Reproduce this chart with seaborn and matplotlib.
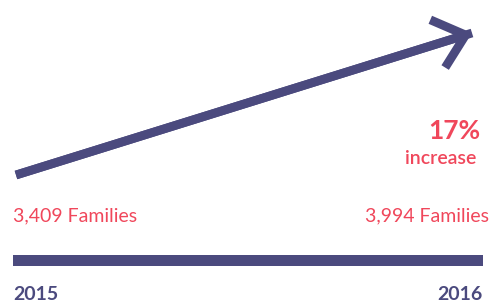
import numpy as np
import pandas as pd
import matplotlib
matplotlib.use("Agg")
import matplotlib.pyplot as plt
import seaborn as sns

# data
years = [2015, 2016]
families = [3409, 3994]
year_labels = ["2015", "2016"]
family_labels = ["3,409 Families", "3,994 Families"]
change_label = "17%"
change_word = "increase"

navy = "#4b4a7e"
red = "#f0475b"

sns.set_theme(style="white")
plt.rcParams['font.family'] = ['Lato', 'DejaVu Sans']

W, H = 493, 304
fig = plt.figure(figsize=(W / 100, H / 100), dpi=100)
ax = fig.add_axes([0, 0, 1, 1])

df = pd.DataFrame({"year": years, "families": families})

# scale: pixels of the canvas for the first/last point
x0_px, x1_px = 16, 472
y0_px, y1_px = 175, 33
px_per_year = (x1_px - x0_px) / (years[1] - years[0])
px_per_fam = (y0_px - y1_px) / (families[1] - families[0])
ax.set_xlim(years[0] - x0_px / px_per_year, years[0] + (W - x0_px) / px_per_year)
ax.set_ylim(families[0] - (H - y0_px) / px_per_fam, families[0] + y0_px / px_per_fam)

# arrow shaft + open head
sns.lineplot(data=df, x="year", y="families", ax=ax, color=navy, lw=6.3,
             solid_capstyle="butt", legend=False)
ax.annotate("", xy=(years[1], families[1]), xytext=(years[0], families[0]),
            arrowprops=dict(arrowstyle="->,head_length=21,head_width=18",
                            mutation_scale=1, lw=6.3, color=navy,
                            shrinkA=0, shrinkB=0, capstyle="butt",
                            joinstyle="miter"))
ax.axis("off")

# timeline bar
tl = fig.add_axes([13 / W, 1 - 266 / H, 470 / W, 11 / H])
tl.set_facecolor(navy)
tl.set_xticks([])
tl.set_yticks([])
sns.despine(ax=tl, left=True, bottom=True)

# labels
fig.text(13 / W, 1 - 221 / H, family_labels[0], color=red, fontsize=14,
         ha="left", va="baseline")
fig.text(489 / W, 1 - 221 / H, family_labels[1], color=red, fontsize=14,
         ha="right", va="baseline")
fig.text(480 / W, 1 - 139 / H, change_label, color=red, fontsize=19,
         fontweight="bold", ha="right", va="baseline")
fig.text(476 / W, 1 - 164 / H, change_word, color=red, fontsize=14,
         fontweight="semibold", ha="right", va="baseline")
fig.text(13 / W, 1 - 303.5 / H, year_labels[0], color=navy, fontsize=14,
         fontweight="bold", ha="left", va="bottom")
fig.text(482 / W, 1 - 303.5 / H, year_labels[1], color=navy, fontsize=14,
         fontweight="bold", ha="right", va="bottom")

fig.savefig("out.png", dpi=100)
